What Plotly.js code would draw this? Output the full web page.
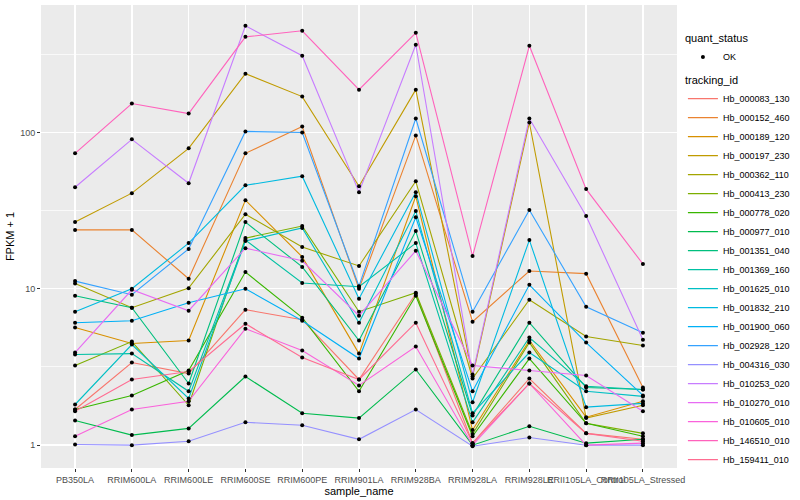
<!DOCTYPE html>
<html>
<head>
<meta charset="utf-8">
<script src="https://cdn.plot.ly/plotly-3.0.1.min.js"></script>
<style>html,body{margin:0;padding:0;background:#fff;}#chart{width:800px;height:500px;}</style>
</head>
<body>
<div id="chart"></div>
<script>
// Categories (x axis)
const sampleNames = ['PB350LA','RRIM600LA','RRIM600LE','RRIM600SE','RRIM600PE','RRIM901LA','RRIM928BA','RRIM928LA','RRIM928LE','RRII105LA_Control','RRII105LA_Stressed'];

// FPKM + 1 values per tracking id
const Hb_000083_130 = [1.69, 3.38, 2.87, 7.35, 6.35, 2.63, 9.29, 1.03, 2.67, 1.19, 1.09];
const Hb_000152_460 = [23.8, 23.8, 11.6, 73.5, 109.2, 10.0, 95.7, 6.16, 13.0, 12.5, 2.34];
const Hb_000189_120 = [5.65, 4.47, 4.67, 36.9, 16.0, 3.85, 39.1, 1.25, 4.67, 1.51, 1.91];
const Hb_000197_230 = [26.7, 40.9, 79.1, 237.6, 169.5, 45.3, 187.8, 2.75, 115.8, 1.49, 1.80];
const Hb_000362_110 = [10.8, 7.57, 10.1, 30.0, 18.5, 14.0, 48.7, 2.67, 8.51, 4.95, 4.34];
const Hb_000413_230 = [3.23, 4.60, 1.80, 21.1, 25.2, 7.14, 9.43, 1.18, 4.53, 1.38, 1.19];
const Hb_000778_020 = [1.69, 2.08, 3.00, 12.8, 6.54, 2.21, 9.02, 1.14, 3.58, 1.38, 1.14];
const Hb_000977_010 = [1.44, 1.16, 1.28, 2.75, 1.60, 1.49, 3.05, 1.00, 1.32, 1.03, 1.09];
const Hb_001351_040 = [9.02, 7.57, 2.48, 26.7, 13.8, 4.67, 23.4, 1.55, 6.07, 2.34, 2.27];
const Hb_001369_160 = [3.80, 3.85, 2.21, 20.5, 10.9, 10.3, 19.6, 1.40, 4.88, 2.38, 2.27];
const Hb_001625_010 = [1.82, 4.40, 1.99, 20.2, 24.5, 6.07, 31.4, 1.60, 3.91, 2.21, 2.05];
const Hb_001832_210 = [7.14, 10.0, 19.6, 45.9, 52.5, 8.64, 41.5, 1.88, 20.5, 1.75, 1.85];
const Hb_001900_060 = [6.07, 6.25, 8.14, 10.0, 6.25, 3.58, 28.7, 2.21, 10.6, 4.53, 2.08];
const Hb_002928_120 = [11.2, 9.16, 18.0, 101.5, 100.0, 10.4, 122.8, 7.14, 31.9, 7.68, 5.24];
const Hb_004316_030 = [1.01, 1.00, 1.06, 1.40, 1.34, 1.09, 1.69, 0.985, 1.12, 1.00, 1.00];
const Hb_010253_020 = [44.6, 90.3, 47.3, 480.5, 309.3, 41.5, 363.6, 2.83, 122.8, 29.2, 4.73];
const Hb_010270_010 = [3.91, 9.86, 7.24, 18.2, 15.1, 6.73, 17.5, 3.23, 3.00, 2.79, 1.65];
const Hb_010605_010 = [1.14, 1.69, 1.91, 5.56, 4.03, 2.41, 4.27, 1.00, 2.48, 1.00, 1.03];
const Hb_146510_010 = [73.5, 153.0, 132.1, 408.6, 446.7, 187.8, 433.5, 16.2, 358.2, 43.4, 14.4];
const Hb_159411_010 = [1.65, 2.63, 2.96, 5.98, 3.64, 2.63, 6.07, 1.03, 2.48, 1.19, 1.06];

const trackingIds = ['Hb_000083_130','Hb_000152_460','Hb_000189_120','Hb_000197_230','Hb_000362_110','Hb_000413_230','Hb_000778_020','Hb_000977_010','Hb_001351_040','Hb_001369_160','Hb_001625_010','Hb_001832_210','Hb_001900_060','Hb_002928_120','Hb_004316_030','Hb_010253_020','Hb_010270_010','Hb_010605_010','Hb_146510_010','Hb_159411_010'];
const seriesValues = [Hb_000083_130,Hb_000152_460,Hb_000189_120,Hb_000197_230,Hb_000362_110,Hb_000413_230,Hb_000778_020,Hb_000977_010,Hb_001351_040,Hb_001369_160,Hb_001625_010,Hb_001832_210,Hb_001900_060,Hb_002928_120,Hb_004316_030,Hb_010253_020,Hb_010270_010,Hb_010605_010,Hb_146510_010,Hb_159411_010];
const seriesColors = ['#F8766D','#EA8331','#D89000','#C09B00','#A3A500','#7CAE00','#39B600','#00BB4E','#00BF7D','#00C1A3','#00BFC4','#00BAE0','#00B0F6','#35A2FF','#9590FF','#C77CFF','#E76BF3','#FA62DB','#FF62BC','#FF6C91'];

const quantStatus = 'OK';
const yTickVals = [1, 10, 100];
const yTickText = ['1', '10', '100'];
const yMinorVals = [Math.sqrt(10), Math.sqrt(1000), Math.sqrt(100000)];

const traces = [];
trackingIds.forEach((id, i) => {
  traces.push({
    type: 'scatter', mode: 'lines', name: id,
    x: sampleNames, y: seriesValues[i],
    line: {color: seriesColors[i], width: 1.1},
    legend: 'legend2', hoverinfo: 'name+x+y'
  });
});
const allX = [], allY = [];
seriesValues.forEach(v => { v.forEach((val, j) => { allX.push(sampleNames[j]); allY.push(val); }); });
traces.push({
  type: 'scatter', mode: 'markers', name: quantStatus,
  x: allX, y: allY,
  marker: {color: '#000000', size: 4, symbol: 'circle'},
  legend: 'legend'
});

const font = 'Liberation Sans, Arial, sans-serif';
const layout = {
  width: 800, height: 500,
  margin: {l: 41, r: 116, t: 5, b: 32},
  paper_bgcolor: '#FFFFFF', plot_bgcolor: '#EBEBEB',
  font: {family: font, color: '#000000'},
  showlegend: true,
  xaxis: {
    type: 'category', categoryorder: 'array', categoryarray: sampleNames,
    range: [-0.6, 10.6], tickangle: 0,
    showgrid: true, gridcolor: '#FFFFFF', gridwidth: 1.4,
    zeroline: false, showline: false,
    ticks: 'outside', ticklen: 3, tickcolor: '#333333', tickwidth: 1,
    tickfont: {family: font, size: 9, color: '#4D4D4D'},
    title: {text: 'sample_name', font: {family: font, size: 11, color: '#000000'}, standoff: 1}
  },
  yaxis: {
    type: 'log', range: [-0.146, 2.815],
    tickvals: yTickVals, ticktext: yTickText,
    showgrid: true, gridcolor: '#FFFFFF', gridwidth: 1.4,
    minor: {tickvals: yMinorVals, showgrid: true, gridcolor: '#FFFFFF', gridwidth: 0.7, ticklen: 0},
    zeroline: false, showline: false,
    ticks: 'outside', ticklen: 3, tickcolor: '#333333', tickwidth: 1,
    tickfont: {family: font, size: 9, color: '#4D4D4D'},
    title: {text: 'FPKM + 1', font: {family: font, size: 11, color: '#000000'}, standoff: 3}
  },
  legend: {
    x: 1.0093, xanchor: 'left', y: 0.95, yanchor: 'top',
    bgcolor: 'rgba(0,0,0,0)', itemwidth: 30,
    title: {text: 'quant_status', font: {family: font, size: 11, color: '#000000'}},
    font: {family: font, size: 9, color: '#000000'}
  },
  legend2: {
    x: 1.0093, xanchor: 'left', y: 0.86, yanchor: 'top',
    bgcolor: 'rgba(0,0,0,0)', itemwidth: 30, tracegroupgap: 0,
    title: {text: 'tracking_id', font: {family: font, size: 11, color: '#000000'}},
    font: {family: font, size: 9, color: '#000000'}
  }
};

Plotly.newPlot('chart', traces, layout, {displayModeBar: false, staticPlot: true});
</script>
</body>
</html>
